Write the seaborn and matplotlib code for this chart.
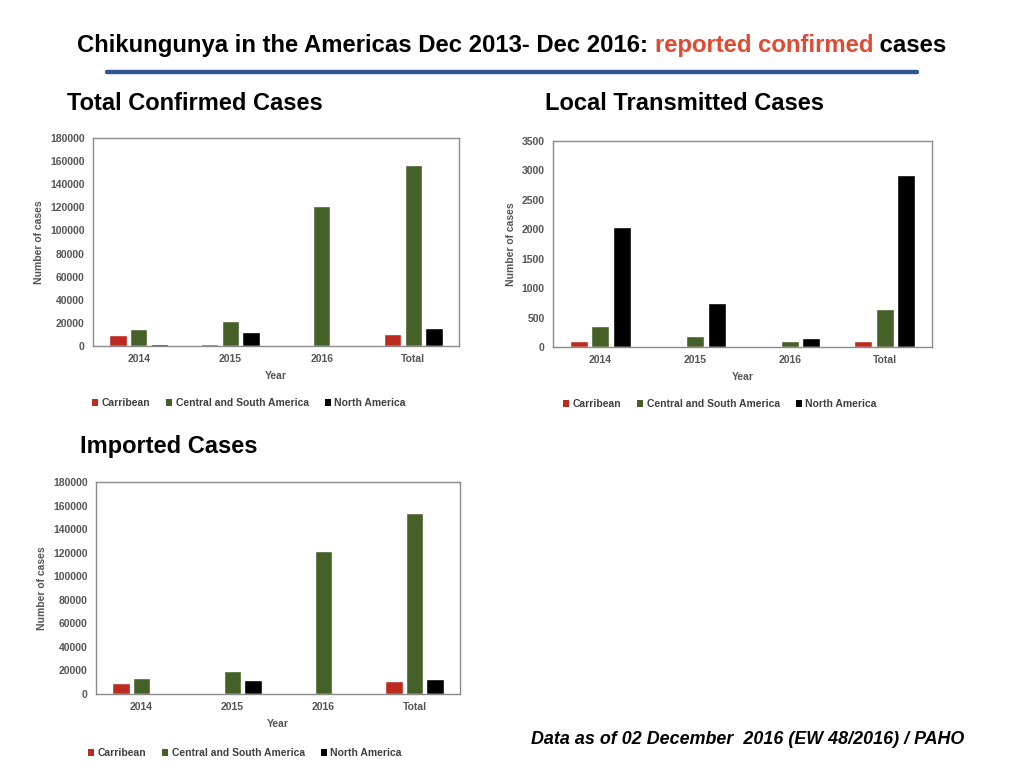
import pandas as pd
import numpy as np
import seaborn as sns
import matplotlib.pyplot as plt
from matplotlib.patches import Patch
from matplotlib.lines import Line2D

years = ["2014", "2015", "2016", "Total"]
regions = ["Carribean", "Central and South America", "North America"]

# total confirmed cases
total_carib = [9800, 1500, 500, 10500]
total_csa = [14500, 22000, 121500, 157000]
total_na = [2000, 12000, 500, 15500]

# locally transmitted cases
local_carib = [110, 25, 0, 110]
local_csa = [360, 185, 110, 640]
local_na = [2040, 740, 155, 2920]

# imported cases
imp_carib = [9500, 1000, 1000, 11000]
imp_csa = [14000, 19500, 121000, 154000]
imp_na = [1200, 11500, 1000, 12500]

colors = ["#bd2a20", "#466128", "#000000"]
W, H = 1024, 768


def long_df(carib, csa, na):
    rows = []
    for reg, vals in zip(regions, [carib, csa, na]):
        for yr, v in zip(years, vals):
            rows.append({"Year": yr, "Region": reg, "Cases": v})
    return pd.DataFrame(rows)


def rect(l, t, r, b):
    return [l / W, 1 - b / H, (r - l) / W, (b - t) / H]


sns.set_theme(style="white")
plt.rcParams['font.family'] = ['Liberation Sans', 'DejaVu Sans']

fig = plt.figure(figsize=(10.24, 7.68), dpi=100)


def draw(pos, df, ymax, ystep, legend_xy):
    ax = fig.add_axes(rect(*pos))
    sns.barplot(data=df, x="Year", y="Cases", hue="Region", order=years,
                hue_order=regions, palette=colors, width=0.68, gap=0.16,
                saturation=1, legend=False, ax=ax)
    ax.set_ylim(0, ymax)
    ax.set_xlim(-0.5, 3.5)
    ax.set_yticks(np.arange(0, ymax + 1, ystep))
    for s in ax.spines.values():
        s.set_color("#8a8a8a")
        s.set_linewidth(1.0)
    ax.tick_params(axis="both", length=0, labelsize=7.5, colors="#555555", pad=6)
    for lab in ax.get_xticklabels() + ax.get_yticklabels():
        lab.set_fontweight("bold")
    ax.set_xlabel("Year", fontsize=7.5, fontweight="bold", color="#555555", labelpad=5)
    ax.set_ylabel("Number of cases", fontsize=7.5, fontweight="bold", color="#555555", labelpad=4)
    handles = [Patch(facecolor=c, edgecolor="none") for c in colors]
    ax.legend(handles, regions, loc="center left", ncol=3, frameon=False,
              bbox_to_anchor=legend_xy, bbox_transform=fig.transFigure,
              borderaxespad=0, borderpad=0,
              handlelength=0.6, handleheight=0.7, handletextpad=0.3,
              columnspacing=1.55, prop={"size": 7.5, "weight": "bold"},
              labelcolor="#404040")
    return ax


draw((93, 138, 459, 346), long_df(total_carib, total_csa, total_na),
     180000, 20000, (92 / W, 1 - 403 / H))
draw((553, 141, 932, 347), long_df(local_carib, local_csa, local_na),
     3500, 500, (563 / W, 1 - 404 / H))
draw((96, 482, 460, 694), long_df(imp_carib, imp_csa, imp_na),
     180000, 20000, (88 / W, 1 - 753 / H))

# title with coloured part
renderer = fig.canvas.get_renderer()
x = 77 / W
ty = 1 - 52 / H
for part, col in [("Chikungunya in the Americas Dec 2013- Dec 2016: ", "black"),
                  ("reported confirmed", "#e04a32"),
                  (" cases", "black")]:
    t = fig.text(x, ty, part, fontsize=17.2, fontweight="bold", color=col,
                 va="baseline", ha="left")
    bb = t.get_window_extent(renderer)
    x = bb.x1 / W

fig.add_artist(Line2D([107 / W, 917 / W], [1 - 72 / H, 1 - 72 / H],
                      color="#2f5595", linewidth=3.2))

for sx, sy, s in [(67, 103, "Total Confirmed Cases"),
                  (545, 103, "Local Transmitted Cases"),
                  (80, 446, "Imported Cases")]:
    fig.text(sx / W, 1 - sy / H, s, fontsize=17, fontweight="bold",
             color="black", va="center")

fig.text(531 / W, 1 - 740 / H, "Data as of 02 December  2016 (EW 48/2016) / PAHO",
         fontsize=12.9, fontweight="bold", fontstyle="italic", color="black",
         va="center")

fig.savefig("out.png", dpi=100)
